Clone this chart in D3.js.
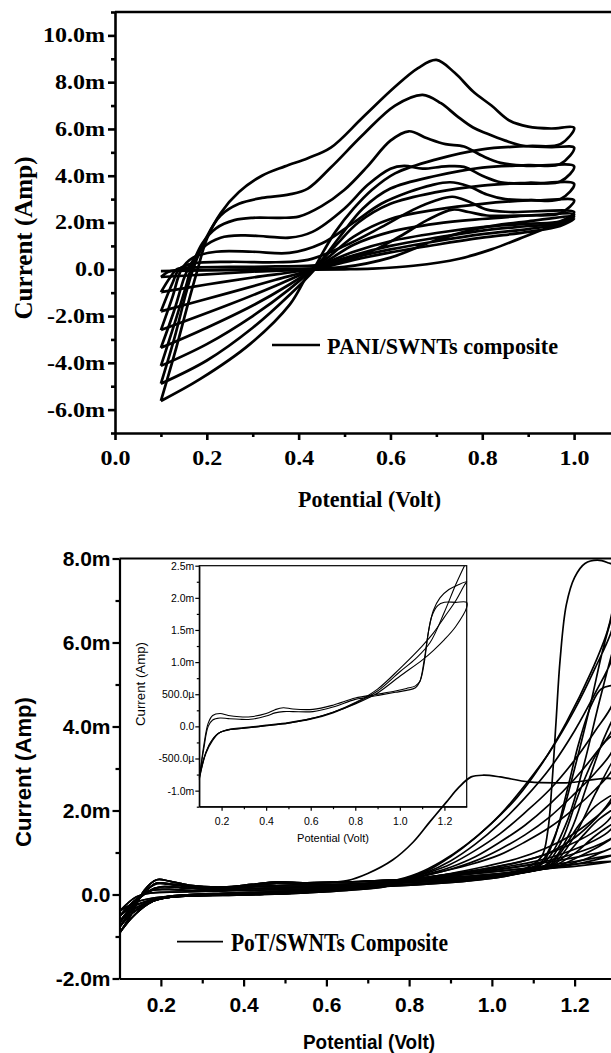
<!DOCTYPE html>
<html>
<head>
<meta charset="utf-8">
<script src="https://cdn.jsdelivr.net/npm/d3@7"></script>
<style>
  body { margin: 0; background: #fff; }
  svg { display: block; }
</style>
</head>
<body>
<div id="chart"></div>
<script>
// ---- data: PANI/SWNTs (top panel), [potential V, current mA] ----
const paniYTicks = [-6, -4, -2, 0, 2, 4, 6, 8, 10];
const paniYLabels = ["-6.0m", "-4.0m", "-2.0m", "0.0", "2.0m", "4.0m", "6.0m", "8.0m", "10.0m"];
const paniYMinor = [-7, -5, -3, -1, 1, 3, 5, 7, 9, 11];
const paniXTicks = [0, 0.2, 0.4, 0.6, 0.8, 1.0];
const paniXLabels = ["0.0", "0.2", "0.4", "0.6", "0.8", "1.0"];
const paniXMinor = [0.1, 0.3, 0.5, 0.7, 0.9];

// anodic sweeps, 0.1 V -> 1.0 V, smallest loop first
const paniForward = [
  [[0.1,-0.08],[0.2,-0.05],[0.3,-0.03],[0.4,-0.02],[0.5,0.0],[0.56,0.03],[0.65,0.15],[0.75,0.45],[0.82,0.85],[0.88,1.3],[0.94,1.75],[1.0,2.15]],
  [[0.1,-0.33],[0.115,-0.12],[0.13,-0.04],[0.2,-0.02],[0.3,0.0],[0.42,0.03],[0.5,0.1],[0.6,0.5],[0.7,1.25],[0.8,1.78],[0.9,2.05],[1.0,2.25]],
  [[0.1,-0.98],[0.12,-0.35],[0.135,0.0],[0.17,0.08],[0.25,0.1],[0.35,0.12],[0.45,0.2],[0.55,0.7],[0.62,1.4],[0.68,2.1],[0.735,2.55],[0.77,2.45],[0.81,2.3],[0.9,2.3],[1.0,2.35]],
  [[0.1,-1.8],[0.125,-0.6],[0.14,0.0],[0.17,0.25],[0.25,0.32],[0.35,0.3],[0.42,0.4],[0.5,1.0],[0.58,1.8],[0.65,2.55],[0.7,2.95],[0.735,3.1],[0.77,2.9],[0.81,2.55],[0.86,2.45],[1.0,2.45]],
  [[0.1,-2.6],[0.125,-1.2],[0.145,0.0],[0.17,0.5],[0.22,0.75],[0.3,0.75],[0.38,0.7],[0.45,1.1],[0.52,2.0],[0.58,2.8],[0.64,3.3],[0.69,3.6],[0.73,3.72],[0.77,3.55],[0.81,3.2],[0.85,3.0],[0.92,2.95],[1.0,2.95]],
  [[0.1,-3.36],[0.13,-1.7],[0.15,-0.4],[0.16,0.05],[0.19,0.9],[0.23,1.35],[0.28,1.45],[0.33,1.4],[0.38,1.35],[0.43,1.6],[0.5,2.6],[0.55,3.6],[0.6,4.3],[0.63,4.42],[0.67,4.3],[0.72,4.4],[0.76,4.38],[0.8,4.0],[0.84,3.72],[0.9,3.66],[1.0,3.65]],
  [[0.1,-4.13],[0.13,-2.3],[0.155,-0.7],[0.165,0.0],[0.19,1.1],[0.22,1.75],[0.26,2.1],[0.3,2.2],[0.36,2.2],[0.4,2.25],[0.45,2.7],[0.5,3.4],[0.55,4.4],[0.6,5.5],[0.64,5.9],[0.68,5.6],[0.72,5.35],[0.76,5.25],[0.8,4.85],[0.84,4.55],[0.9,4.42],[1.0,4.4]],
  [[0.1,-4.89],[0.13,-2.9],[0.155,-1.0],[0.17,0.0],[0.2,1.4],[0.23,2.3],[0.27,2.8],[0.32,3.05],[0.38,3.2],[0.42,3.45],[0.47,4.35],[0.54,5.75],[0.61,7.0],[0.67,7.46],[0.71,7.1],[0.745,6.55],[0.78,6.06],[0.81,5.8],[0.85,5.5],[0.89,5.28],[0.95,5.22],[1.0,5.2]],
  [[0.1,-5.63],[0.13,-3.6],[0.16,-1.4],[0.18,0.0],[0.2,1.3],[0.23,2.4],[0.27,3.3],[0.32,4.0],[0.37,4.4],[0.42,4.75],[0.47,5.2],[0.54,6.5],[0.61,7.8],[0.66,8.6],[0.7,8.95],[0.74,8.4],[0.78,7.6],[0.82,7.0],[0.86,6.35],[0.9,6.1],[0.95,6.02],[1.0,6.05]]
];

// cathodic sweeps, back from 1.0 V to 0.1 V
const paniReverse = [
  [[0.97,1.85],[0.9,1.6],[0.8,1.35],[0.7,1.05],[0.6,0.72],[0.52,0.4],[0.47,0.15],[0.43,0.03],[0.3,-0.02],[0.2,-0.05],[0.1,-0.08]],
  [[0.97,1.95],[0.9,1.72],[0.8,1.5],[0.7,1.2],[0.6,0.85],[0.52,0.5],[0.47,0.22],[0.43,0.03],[0.3,-0.1],[0.2,-0.22],[0.1,-0.33]],
  [[0.97,1.98],[0.9,1.85],[0.8,1.65],[0.7,1.35],[0.6,1.0],[0.52,0.6],[0.47,0.28],[0.43,0.02],[0.3,-0.35],[0.2,-0.65],[0.1,-0.98]],
  [[0.97,2.05],[0.9,1.95],[0.8,1.8],[0.7,1.55],[0.6,1.2],[0.52,0.75],[0.47,0.35],[0.43,0.0],[0.35,-0.45],[0.25,-1.0],[0.1,-1.8]],
  [[0.97,2.4],[0.9,2.3],[0.8,2.15],[0.7,1.95],[0.6,1.6],[0.52,1.05],[0.47,0.45],[0.43,0.0],[0.35,-0.7],[0.25,-1.5],[0.1,-2.6]],
  [[0.97,3.0],[0.9,2.95],[0.8,2.8],[0.7,2.55],[0.6,2.15],[0.52,1.4],[0.47,0.6],[0.43,0.0],[0.38,-0.65],[0.3,-1.55],[0.2,-2.5],[0.1,-3.36]],
  [[0.97,3.75],[0.9,3.7],[0.8,3.58],[0.7,3.3],[0.6,2.8],[0.53,2.0],[0.48,1.0],[0.43,0.0],[0.38,-0.85],[0.3,-2.0],[0.2,-3.2],[0.1,-4.13]],
  [[0.97,4.5],[0.9,4.45],[0.8,4.35],[0.7,4.0],[0.6,3.45],[0.54,2.6],[0.49,1.4],[0.435,0.0],[0.38,-1.1],[0.3,-2.5],[0.2,-3.9],[0.1,-4.89]],
  [[0.97,5.35],[0.9,5.27],[0.8,5.13],[0.7,4.7],[0.61,4.1],[0.56,3.4],[0.52,2.6],[0.48,1.6],[0.455,0.8],[0.435,0.1],[0.418,-0.3],[0.381,-1.5],[0.294,-3.2],[0.185,-4.7],[0.1,-5.63]]
];

// ---- data: PoT/SWNTs (bottom panel) ----
const potYTicks = [-2, 0, 2, 4, 6, 8];
const potYLabels = ["-2.0m", "0.0", "2.0m", "4.0m", "6.0m", "8.0m"];
const potYMinor = [-1, 1, 3, 5, 7];
const potXTicks = [0.2, 0.4, 0.6, 0.8, 1.0, 1.2];
const potXLabels = ["0.2", "0.4", "0.6", "0.8", "1.0", "1.2"];
const potXMinor = [0.3, 0.5, 0.7, 0.9, 1.1];

// low potential part of the sweeps (shared band)
const potBaseForward = [
  [[0.1,-0.92],[0.13,-0.45],[0.16,0.1],[0.19,0.35],[0.22,0.32],[0.27,0.22],[0.35,0.18],[0.42,0.24],[0.48,0.3],[0.55,0.28],[0.65,0.3],[0.75,0.34],[0.85,0.38],[0.95,0.44],[1.02,0.5]],
  [[0.1,-0.78],[0.13,-0.35],[0.16,0.05],[0.19,0.27],[0.23,0.24],[0.3,0.16],[0.38,0.18],[0.47,0.26],[0.55,0.24],[0.65,0.25],[0.75,0.3],[0.85,0.34],[0.95,0.4],[1.02,0.47]],
  [[0.1,-0.65],[0.135,-0.22],[0.17,0.08],[0.2,0.18],[0.25,0.16],[0.33,0.12],[0.45,0.2],[0.55,0.2],[0.65,0.21],[0.75,0.26],[0.85,0.31],[0.95,0.38],[1.02,0.45]],
  [[0.1,-0.52],[0.14,-0.12],[0.18,0.1],[0.22,0.12],[0.3,0.08],[0.45,0.15],[0.6,0.16],[0.72,0.2],[0.85,0.27],[0.95,0.35],[1.02,0.43]],
  [[0.1,-0.4],[0.14,-0.06],[0.18,0.04],[0.25,0.06],[0.4,0.1],[0.55,0.12],[0.7,0.17],[0.85,0.25],[0.95,0.33],[1.02,0.41]]
];
const potBaseReverse = [
  [[0.75,0.3],[0.65,0.18],[0.55,0.1],[0.45,0.06],[0.35,0.03],[0.27,0.0],[0.21,-0.06],[0.17,-0.22],[0.13,-0.55],[0.1,-0.92]],
  [[0.75,0.28],[0.65,0.16],[0.55,0.08],[0.45,0.04],[0.35,0.01],[0.27,-0.02],[0.21,-0.08],[0.17,-0.2],[0.13,-0.45],[0.1,-0.78]],
  [[0.75,0.25],[0.65,0.14],[0.55,0.06],[0.45,0.02],[0.35,0.0],[0.27,-0.03],[0.21,-0.08],[0.17,-0.18],[0.13,-0.38],[0.1,-0.65]],
  [[0.75,0.22],[0.65,0.12],[0.55,0.05],[0.45,0.01],[0.35,-0.01],[0.27,-0.03],[0.21,-0.07],[0.16,-0.18],[0.12,-0.35],[0.1,-0.52]],
  [[0.75,0.2],[0.65,0.1],[0.55,0.04],[0.45,0.0],[0.35,-0.02],[0.25,-0.04],[0.2,-0.06],[0.15,-0.15],[0.12,-0.28],[0.1,-0.4]]
];
// high potential part: oxidation onset and return
const potLoopFwd = [
  [[1.08,0.62],[1.12,0.9],[1.135,1.5],[1.145,2.6],[1.155,4.1],[1.165,5.6],[1.18,6.9],[1.2,7.55],[1.225,7.88],[1.255,7.96],[1.28,7.9],[1.3,7.8]],
  [[1.08,0.6],[1.12,0.78],[1.16,1.6],[1.2,3.0],[1.24,4.6],[1.27,5.9],[1.3,6.9]],
  [[1.08,0.58],[1.13,0.8],[1.18,1.7],[1.22,3.0],[1.26,4.6],[1.3,6.1]],
  [[1.08,0.56],[1.12,0.72],[1.15,1.3],[1.18,2.4],[1.21,3.6],[1.24,4.5],[1.265,4.9],[1.3,4.95]],
  [[1.08,0.55],[1.14,0.75],[1.19,1.5],[1.23,2.6],[1.27,3.7],[1.3,4.3]],
  [[1.08,0.54],[1.13,0.7],[1.17,1.3],[1.21,2.4],[1.25,3.3],[1.28,3.7],[1.3,3.8]],
  [[1.08,0.53],[1.15,0.75],[1.2,1.4],[1.25,2.4],[1.3,3.3]],
  [[1.1,0.56],[1.14,0.7],[1.17,1.05],[1.21,1.65],[1.25,2.1],[1.3,2.4]],
  [[1.1,0.56],[1.14,0.66],[1.18,0.95],[1.22,1.4],[1.26,1.8],[1.3,2.05]],
  [[1.1,0.57],[1.15,0.68],[1.2,0.98],[1.25,1.4],[1.3,1.72]],
  [[1.1,0.57],[1.16,0.68],[1.21,0.9],[1.26,1.15],[1.3,1.4]],
  [[1.1,0.58],[1.17,0.68],[1.22,0.82],[1.26,0.98],[1.3,1.15]],
  [[1.12,0.6],[1.18,0.68],[1.24,0.8],[1.3,0.95]],
  [[1.12,0.6],[1.2,0.67],[1.26,0.74],[1.3,0.8]]
];
const potLoopRev = [
  [[1.295,7.0],[1.28,6.3],[1.24,5.3],[1.18,4.1],[1.12,3.1],[1.06,2.3],[1.0,1.7],[0.94,1.2],[0.88,0.8],[0.82,0.5]],
  [[1.29,6.3],[1.25,5.4],[1.2,4.4],[1.14,3.4],[1.08,2.6],[1.02,1.9],[0.96,1.35],[0.9,0.9],[0.84,0.55]],
  [[1.29,5.6],[1.25,4.8],[1.2,3.9],[1.14,3.0],[1.08,2.3],[1.02,1.7],[0.96,1.2],[0.9,0.8],[0.84,0.52]],
  [[1.29,4.5],[1.25,3.9],[1.2,3.2],[1.14,2.5],[1.08,1.95],[1.02,1.45],[0.96,1.05],[0.9,0.72],[0.84,0.5]],
  [[1.29,3.9],[1.25,3.35],[1.2,2.75],[1.14,2.15],[1.08,1.65],[1.02,1.25],[0.96,0.9],[0.9,0.65],[0.84,0.47]],
  [[1.29,3.4],[1.25,2.9],[1.2,2.4],[1.14,1.85],[1.08,1.42],[1.02,1.08],[0.96,0.8],[0.9,0.6],[0.84,0.45]],
  [[1.29,2.95],[1.25,2.5],[1.2,2.05],[1.14,1.6],[1.08,1.25],[1.02,0.95],[0.95,0.72],[0.88,0.55],[0.82,0.42]],
  [[1.28,2.1],[1.24,1.75],[1.19,1.4],[1.13,1.1],[1.06,0.85],[0.98,0.66],[0.9,0.5],[0.82,0.38]],
  [[1.28,1.75],[1.24,1.45],[1.18,1.15],[1.12,0.92],[1.05,0.74],[0.97,0.59],[0.88,0.46],[0.8,0.35]],
  [[1.28,1.48],[1.23,1.2],[1.17,0.97],[1.11,0.8],[1.04,0.67],[0.96,0.55],[0.88,0.44],[0.8,0.34]],
  [[1.27,1.24],[1.22,1.04],[1.16,0.86],[1.1,0.73],[1.03,0.62],[0.95,0.52],[0.87,0.42],[0.8,0.33]],
  [[1.27,1.03],[1.22,0.92],[1.16,0.81],[1.1,0.71],[1.03,0.61],[0.95,0.5],[0.86,0.4]],
  [[1.25,0.87],[1.19,0.77],[1.13,0.69],[1.06,0.6],[0.98,0.52],[0.9,0.44],[0.82,0.36]],
  [[1.24,0.76],[1.17,0.7],[1.1,0.64],[1.03,0.57],[0.95,0.49],[0.87,0.41],[0.8,0.33]]
];
const potLoopBase = [0, 1, 2, 3, 4, 0, 1, 2, 3, 4, 0, 1, 2, 3];
// the one sweep with an early hump near 1.0 V
const potHumpFwd = [[0.1,-0.7],[0.13,-0.3],[0.16,0.06],[0.19,0.25],[0.23,0.22],[0.3,0.15],[0.4,0.2],[0.48,0.27],[0.56,0.27],[0.6,0.28],[0.65,0.33],[0.7,0.5],[0.76,0.82],[0.81,1.25],[0.85,1.73],[0.89,2.2],[0.92,2.55],[0.95,2.8],[0.98,2.84],[1.02,2.8],[1.09,2.68],[1.18,2.66],[1.3,2.72]];
const potHumpRev = [[1.29,2.3],[1.25,1.8],[1.2,1.35],[1.14,1.0],[1.07,0.78],[1.0,0.64],[0.92,0.52],[0.84,0.4]];

// ---- data: inset (first cycles) ----
const insetYTicks = [-1.0, -0.5, 0, 0.5, 1.0, 1.5, 2.0, 2.5];
const insetYLabels = ["-1.0m", "-500.0\u00b5", "0.0", "500.0\u00b5", "1.0m", "1.5m", "2.0m", "2.5m"];
const insetYMinor = [-1.25, -0.75, -0.25, 0.25, 0.75, 1.25, 1.75, 2.25];
const insetXTicks = [0.2, 0.4, 0.6, 0.8, 1.0, 1.2];
const insetXLabels = ["0.2", "0.4", "0.6", "0.8", "1.0", "1.2"];
const insetXMinor = [0.3, 0.5, 0.7, 0.9, 1.1];
const insetForward = [
  [[0.1,-0.83],[0.12,-0.3],[0.14,0.05],[0.16,0.17],[0.193,0.2],[0.23,0.17],[0.28,0.15],[0.33,0.15],[0.4,0.2],[0.44,0.26],[0.477,0.29],[0.52,0.27],[0.61,0.265],[0.7,0.33],[0.8,0.44],[0.9,0.5],[0.98,0.55],[1.03,0.59],[1.07,0.63],[1.09,0.7],[1.11,1.0],[1.125,1.4],[1.143,1.71],[1.17,1.88],[1.2,1.93],[1.25,1.93],[1.3,1.93]],
  [[0.1,-0.8],[0.12,-0.35],[0.14,0.0],[0.16,0.1],[0.193,0.13],[0.23,0.12],[0.28,0.11],[0.33,0.11],[0.4,0.16],[0.44,0.21],[0.477,0.23],[0.52,0.23],[0.61,0.23],[0.7,0.3],[0.8,0.42],[0.9,0.48],[0.98,0.53],[1.03,0.56],[1.07,0.6],[1.09,0.7],[1.11,1.05],[1.13,1.5],[1.15,1.8],[1.18,2.0],[1.22,2.13],[1.26,2.2],[1.3,2.25]]
];
const insetReverse = [
  [[1.3,1.85],[1.25,1.55],[1.2,1.35],[1.15,1.18],[1.1,1.03],[1.0,0.78],[0.9,0.52],[0.8,0.35],[0.7,0.22],[0.6,0.12],[0.5,0.06],[0.4,0.02],[0.3,-0.02],[0.24,-0.04],[0.19,-0.1],[0.16,-0.2],[0.13,-0.4],[0.1,-0.83]],
  [[1.29,2.2],[1.25,1.95],[1.2,1.7],[1.15,1.45],[1.1,1.25],[1.0,0.9],[0.9,0.58],[0.8,0.37],[0.7,0.22],[0.6,0.12],[0.5,0.05],[0.4,0.01],[0.3,-0.03],[0.24,-0.05],[0.19,-0.1],[0.16,-0.22],[0.13,-0.42],[0.1,-0.8]]
];
const insetSweep = [[1.29,2.5],[1.25,2.2],[1.2,1.78],[1.135,1.3],[1.07,1.05],[1.0,0.85],[0.9,0.55],[0.8,0.36],[0.7,0.21],[0.6,0.11],[0.5,0.05],[0.4,0.01],[0.3,-0.03],[0.22,-0.06],[0.18,-0.12],[0.15,-0.25],[0.12,-0.5],[0.1,-0.78]];

// ---- layout ----
const width = 611;
const height = 1053;
const SERIF = "'Liberation Serif', 'Times New Roman', serif";
const SANS = "'Liberation Sans', Arial, sans-serif";

const svg = d3.select("#chart").append("svg")
  .attr("width", width).attr("height", height)
  .attr("viewBox", `0 0 ${width} ${height}`);

// stretch a text to a given width
function fitText(sel, len) {
  sel.attr("textLength", len).attr("lengthAdjust", "spacingAndGlyphs");
}

// major + minor ticks with the library axis
function drawAxis(g, orient, scale, at, majors, labels, minors, o) {
  const make = orient === "left" ? d3.axisLeft : d3.axisBottom;
  const gm = g.append("g").attr("transform", at)
    .call(make(scale).tickValues(minors).tickSize(o.minor).tickSizeOuter(0).tickFormat(""));
  gm.select(".domain").remove();
  gm.selectAll("line").attr("stroke-width", o.sw);

  const ga = g.append("g").attr("transform", at)
    .call(make(scale).tickValues(majors).tickSize(o.major).tickSizeOuter(0)
      .tickPadding(o.pad).tickFormat((d, i) => labels[i]));
  ga.select(".domain").attr("stroke-width", o.sw);
  ga.selectAll("line").attr("stroke-width", o.sw);
  ga.selectAll("text")
    .attr("fill", "#000")
    .attr("font-family", o.font)
    .attr("font-size", o.size)
    .attr("font-weight", o.weight);
  if (o.stretch) {
    ga.selectAll("text").each(function () {
      fitText(d3.select(this), this.getComputedTextLength() * o.stretch);
    });
  }
  return ga;
}

function lineGen(x, y) {
  return d3.line()
    .x((d) => x(d[0]))
    .y((d) => y(d[1]))
    .curve(d3.curveCatmullRom.alpha(0.5));
}

// ---------------- top panel ----------------
const x1 = d3.scaleLinear().domain([0, 1.1]).range([115, 620]);
const y1 = d3.scaleLinear().domain([-7, 11]).range([433, 12]);
const topG = svg.append("g");
const line1 = lineGen(x1, y1);

topG.append("g")
  .selectAll("path")
  .data(paniForward.map((f, i) => f.concat(paniReverse[i])))
  .enter()
  .append("path")
  .attr("d", line1)
  .attr("fill", "none")
  .attr("stroke", "#000")
  .attr("stroke-width", 2.7)
  .attr("stroke-linejoin", "round");

topG.append("line")
  .attr("x1", x1(0)).attr("x2", x1(1.1))
  .attr("y1", y1(11)).attr("y2", y1(11))
  .attr("stroke", "#000").attr("stroke-width", 2.6);

drawAxis(topG, "left", y1, `translate(${x1(0)},0)`, paniYTicks, paniYLabels, paniYMinor,
  { major: 7, minor: 4, pad: 3, sw: 2.6, font: SERIF, size: 20, weight: "bold", stretch: 1.2 });
drawAxis(topG, "bottom", x1, `translate(0,${y1(-7)})`, paniXTicks, paniXLabels, paniXMinor,
  { major: 7, minor: 4, pad: 11, sw: 2.6, font: SERIF, size: 20, weight: "bold", stretch: 1.2 });

topG.append("text")
  .attr("transform", "translate(32,238) rotate(-90)")
  .attr("text-anchor", "middle")
  .attr("font-family", SERIF).attr("font-weight", "bold").attr("font-size", 25)
  .text("Current (Amp)")
  .call(fitText, 163);

topG.append("text")
  .attr("x", 369.5).attr("y", 507)
  .attr("text-anchor", "middle")
  .attr("font-family", SERIF).attr("font-weight", "bold").attr("font-size", 23)
  .text("Potential (Volt)")
  .call(fitText, 143);

// legend
topG.append("line")
  .attr("x1", 272).attr("x2", 320).attr("y1", 345).attr("y2", 345)
  .attr("stroke", "#000").attr("stroke-width", 2.6);
topG.append("text")
  .attr("x", 327).attr("y", 354)
  .attr("font-family", SERIF).attr("font-weight", "bold").attr("font-size", 24)
  .text("PANI/SWNTs composite")
  .call(fitText, 231);

// ---------------- bottom panel ----------------
const x2 = d3.scaleLinear().domain([0.1, 1.3]).range([119.5, 616]);
const y2 = d3.scaleLinear().domain([-2, 8]).range([978.5, 558.5]);
const x3 = d3.scaleLinear().domain([0.1, 1.3]).range([199.3, 466.7]);
const y3 = d3.scaleLinear().domain([-1.25, 2.5]).range([806.7, 565.7]);
const botG = svg.append("g");
const line2 = lineGen(x2, y2);
const line3 = lineGen(x3, y3);

svg.append("defs").append("clipPath").attr("id", "clipPot")
  .append("rect")
  .attr("x", x2(0.1)).attr("y", y2(8))
  .attr("width", x2(1.3) - x2(0.1)).attr("height", y2(-2) - y2(8));

// inset background first, main curves cross its corner
botG.append("rect")
  .attr("x", x3(0.1)).attr("y", y3(2.5))
  .attr("width", x3(1.3) - x3(0.1)).attr("height", y3(-1.25) - y3(2.5))
  .attr("fill", "#fff");

const potPaths = potLoopFwd.map((f, i) => {
  const b = potLoopBase[i];
  return potBaseForward[b].concat(f, potLoopRev[i], potBaseReverse[b]);
});
potPaths.push(potHumpFwd.concat(potHumpRev, potBaseReverse[1]));

botG.append("g")
  .attr("clip-path", "url(#clipPot)")
  .selectAll("path")
  .data(potPaths)
  .enter()
  .append("path")
  .attr("d", line2)
  .attr("fill", "none")
  .attr("stroke", "#000")
  .attr("stroke-width", 1.7)
  .attr("stroke-linejoin", "round");

botG.append("line")
  .attr("x1", x2(0.1)).attr("x2", x2(1.3))
  .attr("y1", y2(8)).attr("y2", y2(8))
  .attr("stroke", "#000").attr("stroke-width", 2.2);

drawAxis(botG, "left", y2, `translate(${x2(0.1)},0)`, potYTicks, potYLabels, potYMinor,
  { major: 7, minor: 4, pad: 2, sw: 2.2, font: SANS, size: 21, weight: "bold" });
drawAxis(botG, "bottom", x2, `translate(0,${y2(-2)})`, potXTicks, potXLabels, potXMinor,
  { major: 8, minor: 5, pad: 11, sw: 2.2, font: SANS, size: 21, weight: "bold" });

botG.append("text")
  .attr("transform", "translate(31,772) rotate(-90)")
  .attr("text-anchor", "middle")
  .attr("font-family", SANS).attr("font-weight", "bold").attr("font-size", 22)
  .text("Current (Amp)")
  .call(fitText, 150);

botG.append("text")
  .attr("x", 369).attr("y", 1049)
  .attr("text-anchor", "middle")
  .attr("font-family", SANS).attr("font-weight", "bold").attr("font-size", 21)
  .text("Potential (Volt)")
  .call(fitText, 132);

// legend
botG.append("line")
  .attr("x1", 177).attr("x2", 223).attr("y1", 941.7).attr("y2", 941.7)
  .attr("stroke", "#000").attr("stroke-width", 1.8);
botG.append("text")
  .attr("x", 231).attr("y", 950.7)
  .attr("font-family", SERIF).attr("font-weight", "bold").attr("font-size", 25)
  .text("PoT/SWNTs Composite")
  .call(fitText, 217);

// ---------------- inset ----------------
const insetG = svg.append("g");
const insetPaths = insetForward.map((f, i) => f.concat(insetReverse[i]));
insetPaths.push(insetSweep);

insetG.append("g")
  .selectAll("path")
  .data(insetPaths)
  .enter()
  .append("path")
  .attr("d", line3)
  .attr("fill", "none")
  .attr("stroke", "#000")
  .attr("stroke-width", 1.1);

insetG.append("rect")
  .attr("x", x3(0.1)).attr("y", y3(2.5))
  .attr("width", x3(1.3) - x3(0.1)).attr("height", y3(-1.25) - y3(2.5))
  .attr("fill", "none").attr("stroke", "#000").attr("stroke-width", 1.2);

drawAxis(insetG, "left", y3, `translate(${x3(0.1)},0)`, insetYTicks, insetYLabels, insetYMinor,
  { major: 4, minor: 2.5, pad: 1, sw: 1.2, font: SANS, size: 10.5, weight: "normal" });
drawAxis(insetG, "bottom", x3, `translate(0,${y3(-1.25)})`, insetXTicks, insetXLabels, insetXMinor,
  { major: 4, minor: 2.5, pad: 7, sw: 1.2, font: SANS, size: 10.5, weight: "normal" });

insetG.append("text")
  .attr("transform", "translate(145,684) rotate(-90)")
  .attr("text-anchor", "middle")
  .attr("font-family", SANS).attr("font-size", 12)
  .text("Current (Amp)")
  .call(fitText, 84);

insetG.append("text")
  .attr("x", 333).attr("y", 842)
  .attr("text-anchor", "middle")
  .attr("font-family", SANS).attr("font-size", 11)
  .text("Potential (Volt)")
  .call(fitText, 72);
</script>
</body>
</html>
